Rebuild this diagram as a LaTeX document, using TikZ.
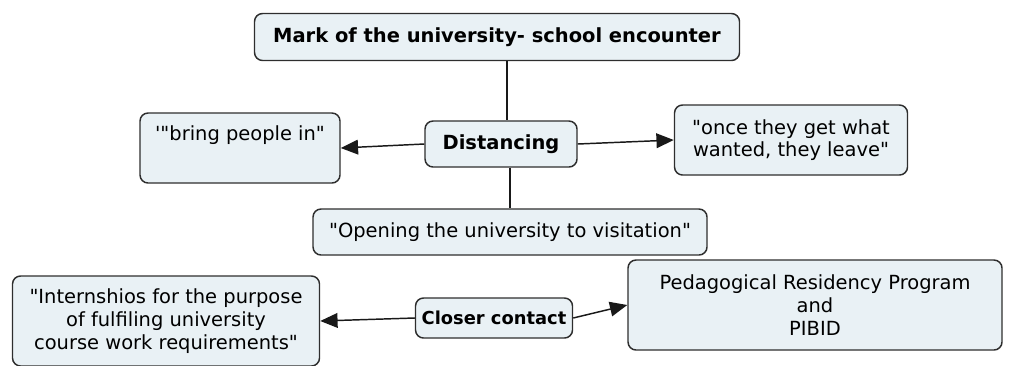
\documentclass[tikz,border=0pt]{standalone}
\usepackage{fontspec}
\setmainfont{DejaVu Sans}[Ligatures=TeXOff]
\usetikzlibrary{arrows.meta}
\definecolor{boxfill}{HTML}{E9F1F5}
\definecolor{boxline}{HTML}{2E2E2E}
\begin{document}
\begin{tikzpicture}[
        x=0.75pt, y=-0.75pt,
        concept/.style={draw=boxline, line width=1.1pt, rounded corners=6pt, fill=boxfill,
            align=center, inner sep=0pt, font=\fontsize{14.6}{17}\selectfont},
        key/.style={concept, font=\fontsize{14.6}{17}\selectfont\bfseries},
        link/.style={line width=1.1pt, draw=black!90},
        arrow/.style={link, -{Triangle[length=13pt, width=11pt]}}
    ]
        \useasboundingbox (0,0) rectangle (1013,365);
        % Distancing branch
        \node[key, minimum width=485*0.75pt, minimum height=47*0.75pt] (mark) at (497,37) {Mark of the university- school encounter};
        \node[key, minimum width=152*0.75pt, minimum height=46*0.75pt] (dist) at (501,144) {Distancing};
        \node[concept, minimum width=200*0.75pt, minimum height=70*0.75pt] (bring) at (240,148) {'"bring people in"\\ \strut};
        \node[concept, minimum width=233*0.75pt, minimum height=70*0.75pt] (leave) at (791,140) {"once they get what\\wanted, they leave"};
        \node[concept, minimum width=394*0.75pt, minimum height=46*0.75pt] (open) at (510,232) {"Opening the university to visitation"};
        % Closer contact branch
        \node[key, font=\fontsize{13.4}{17}\selectfont\bfseries, minimum width=157*0.75pt, minimum height=40*0.75pt] (close) at (494,318) {Closer contact};
        \node[concept, minimum width=307*0.75pt, minimum height=90*0.75pt] (intern) at (166,321) {"Internshios for the purpose\\of fulfiling university\\course work requirements"};
        \node[concept, minimum width=374*0.75pt, minimum height=90*0.75pt] (pibid) at (815,305) {Pedagogical Residency Program\\and\\PIBID};

        \draw[link] (mark.south -| 507,0) -- (dist.north -| 507,0);
        \draw[link] (dist.south -| 510,0) -- (open.north -| 510,0);
        \draw[arrow] (dist.west) -- (bring.east);
        \draw[arrow] (dist.east) -- (leave.west);
        \draw[arrow] (close.west) -- (intern.east);
        \draw[arrow] (close.east) -- (pibid.west);
    \end{tikzpicture}
\end{document}
